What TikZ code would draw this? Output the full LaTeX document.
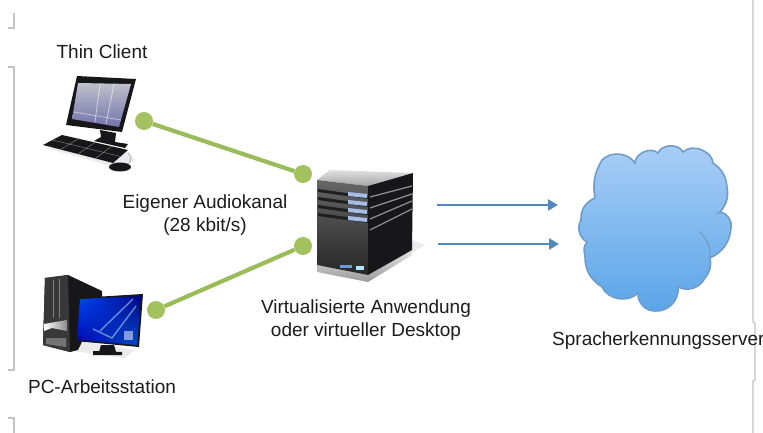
\documentclass[tikz,border=0pt]{standalone}
\usepackage{fontspec}
\setmainfont{Liberation Sans}
\usetikzlibrary{arrows.meta,calc,shadings}
\definecolor{txt}{HTML}{1C1C1C}
\definecolor{grn}{HTML}{A3C25F}
\definecolor{grnl}{HTML}{9ABC58}
\definecolor{arrowblue}{HTML}{5289BC}
\definecolor{artifact}{HTML}{C4C4C4}
\definecolor{cloudtop}{HTML}{AACEF6}
\definecolor{cloudbot}{HTML}{5AA5E8}
\definecolor{cloudline}{HTML}{6F9DC8}
\definecolor{ink}{HTML}{17171A}
\tikzset{
  lbl/.style={text=txt,font=\fontsize{19}{23.5}\selectfont,inner sep=0pt,align=center},
  dot/.style={circle,fill=grn,draw=none,minimum size=18pt,inner sep=0pt},
  link/.style={draw=grnl,line width=4.2pt},
  flow/.style={draw=arrowblue,line width=2.8pt,-{Triangle[length=10pt,width=11pt]}},
  page/.style={draw=artifact,line width=1.2pt},
}
\begin{document}
\begin{tikzpicture}[x=1pt,y=-1pt]
\fill[white] (0,0) rectangle (763,433);
\useasboundingbox (0,0) rectangle (763,433);
% page artefacts
\draw[page] (8,28) -- (14,28) -- (14,13);
\draw[page] (8,67) -- (14,67) -- (14,370) -- (8,370);
\draw[page] (8,418) -- (14,418) -- (14,433);
\draw[page] (753,0) -- (753,322) -- (755,323) -- (755,380) -- (753,381) -- (753,433);

% thin client
\fill[black!8] (46,148) -- (118,168) -- (135,160) -- (125,150) -- cycle;
\draw[black!30,line width=0.8pt] (128,153) .. controls (134,158) and (130,165) .. (124,165);
\fill[ink] (100,130) -- (116,133) -- (115,142) -- (128,144) -- (125,148) -- (94,141) -- (101,137) -- cycle;
\fill[ink] (43,145) -- (62,135) -- (128,150) -- (113,163) -- cycle;
\foreach \i in {0.25,0.5,0.75}
  \draw[black!45,line width=0.4pt] ($(43,145)!\i!(113,163)$) -- ($(62,135)!\i!(128,150)$);
\draw[black!45,line width=0.4pt] ($(43,145)!.5!(62,135)$) -- ($(113,163)!.5!(128,150)$);
\fill[ink] (120,167) ellipse [x radius=11pt,y radius=4.5pt];
\fill[ink] (77,76) -- (136,79) -- (122,132) -- (66,125) -- cycle;
\shade[top color=blue!20!black!25!white,bottom color=blue!40!black!55!white]
  (78,83) -- (131,84) -- (119,127) -- (72,119) -- cycle;
\draw[white,line width=0.8pt,opacity=.55] (100,84) -- (95,122);
\draw[white,line width=0.8pt,opacity=.55] (114,84) -- (106,124);
\draw[white,line width=0.7pt,opacity=.55] (74,112) -- (121,120);

% PC workstation
\fill[black!8] (43,347) -- (125,358) -- (135,350) -- (70,340) -- cycle;
\fill[ink] (45,278) -- (68,275) -- (102,291) -- (102,300) -- (78,350) -- (70,352) -- (43,345) -- cycle;
\fill[black!78] (45,278) -- (68,275) -- (70,352) -- (43,345) -- cycle;
\draw[black!50,line width=1pt] (53,280) -- (53,318);
\draw[black!50,line width=1pt] (59,279) -- (59,318);
\shade[left color=white,right color=black!45] (44,324) -- (67,320) -- (67,331) -- (52,328) -- (44,331) -- cycle;
\fill[black!55] (46,338) -- (66,338) -- (66,347) -- (46,344) -- cycle;
\fill[ink] (93,351) -- (122,352) -- (122,355) -- (93,355) -- cycle;
\fill[ink] (101,345) -- (114,345) -- (116,352) -- (99,352) -- cycle;
\fill[ink] (78,298) -- (143,294) -- (139,347) -- (75,341) -- cycle;
\shade[lower left=blue!65!black,upper right=blue!50!black,lower right=blue!60!cyan!80!black,upper left=blue!70!cyan]
  (80,299) -- (141,296) -- (137,345) -- (77,340) -- cycle;
\draw[cyan!30!white,line width=1.4pt,opacity=.55] (93,329) -- (112,338) -- (136,306);
\draw[cyan!30!white,line width=1.4pt,opacity=.55] (100,331) -- (133,299);
\fill[white,opacity=.5] (124,331) rectangle (133,340);

% server
\fill[black!8] (317,266) -- (368,277) -- (425,245) -- (412,240) -- cycle;
\shade[top color=black!10,bottom color=black!40] (317,265) -- (368,275) -- (412,250) -- (412,255) -- (368,282) -- (317,272) -- cycle;
\shade[top color=black!12,bottom color=black!35] (317,180) -- (330,170) -- (413,173) -- (368,186) -- cycle;
\shade[top color=black!60,bottom color=black!85] (317,180) -- (368,186) -- (368,275) -- (317,265) -- cycle;
\fill[ink] (368,186) -- (413,173) -- (412,250) -- (368,275) -- cycle;
\foreach \a in {197,205,213,221}{
  \fill[black!88] (318,\a-8) -- (368,\a-1) -- (368,\a+2) -- (318,\a-5) -- cycle;
  \fill[cyan!50!blue!35!white] (348,\a-5) -- (367,\a-3) -- (367,\a+1) -- (348,\a-1) -- cycle;
}
\foreach \p/\q in {197/186,208/194,219/201,230/209}
  \draw[black!45,line width=1.3pt] (370,\p) -- (412,\q);
\fill[cyan!50!blue!60!white] (340,265) rectangle (352,268);
\fill[cyan!30!white] (356,266) rectangle (364,270);

% cloud
\path[draw=cloudline,line width=1.6pt,top color=cloudtop,bottom color=cloudbot]
  (595,198) to[bend left=20] (602,160)
  to[bend left=50] (635,163)
  to[bend left=65] (658,153)
  to[bend left=65] (683,152)
  to[bend left=65] (713,163)
  to[bend left=25] (727,187)
  to[bend left=25] (720,212)
  to[bend left=45] (731,228)
  to[bend left=30] (710,258)
  to[bend left=25] (705,278)
  to[bend left=45] (678,287)
  to[bend left=50] (656,311)
  to[bend left=50] (638,293)
  to[bend left=55] (602,287)
  to[bend left=30] (585,255)
  to[bend left=30] (587,242)
  to[bend left=45] (581,220)
  to[bend left=35] cycle;
\draw[cloudline,line width=1.2pt] (700,232) .. controls (708,240) and (711,250) .. (710,258);
\draw[cloudline,line width=1.2pt] (720,212) -- (716,214);

% connectors
\node[dot] (thin) at (144,121) {};
\node[dot] (srvA) at (303,174) {};
\node[dot] (pc) at (156,310) {};
\node[dot] (srvB) at (303,246) {};
\draw[link] (thin) -- (srvA);
\draw[link] (pc) -- (srvB);
\coordinate (a1) at (437,205);
\coordinate (a2) at (558,205);
\coordinate (b1) at (438,244);
\coordinate (b2) at (559,244);
\draw[flow] (a1) -- (a2);
\draw[flow] (b1) -- (b2);

% labels
\node[lbl] (tThin) at (102,52) {Thin Client};
\node[lbl] (tAudio) at (205,215) {Eigener Audiokanal\\(28 kbit/s)};
\node[lbl] (tPC) at (102,387) {PC-Arbeitsstation};
\node[lbl] (tVirt) at (366,320) {Virtualisierte Anwendung\\oder virtueller Desktop};
\node[lbl,anchor=west] (tSpr) at (552,341) {Spracherkennungsserver};
\end{tikzpicture}
\end{document}
